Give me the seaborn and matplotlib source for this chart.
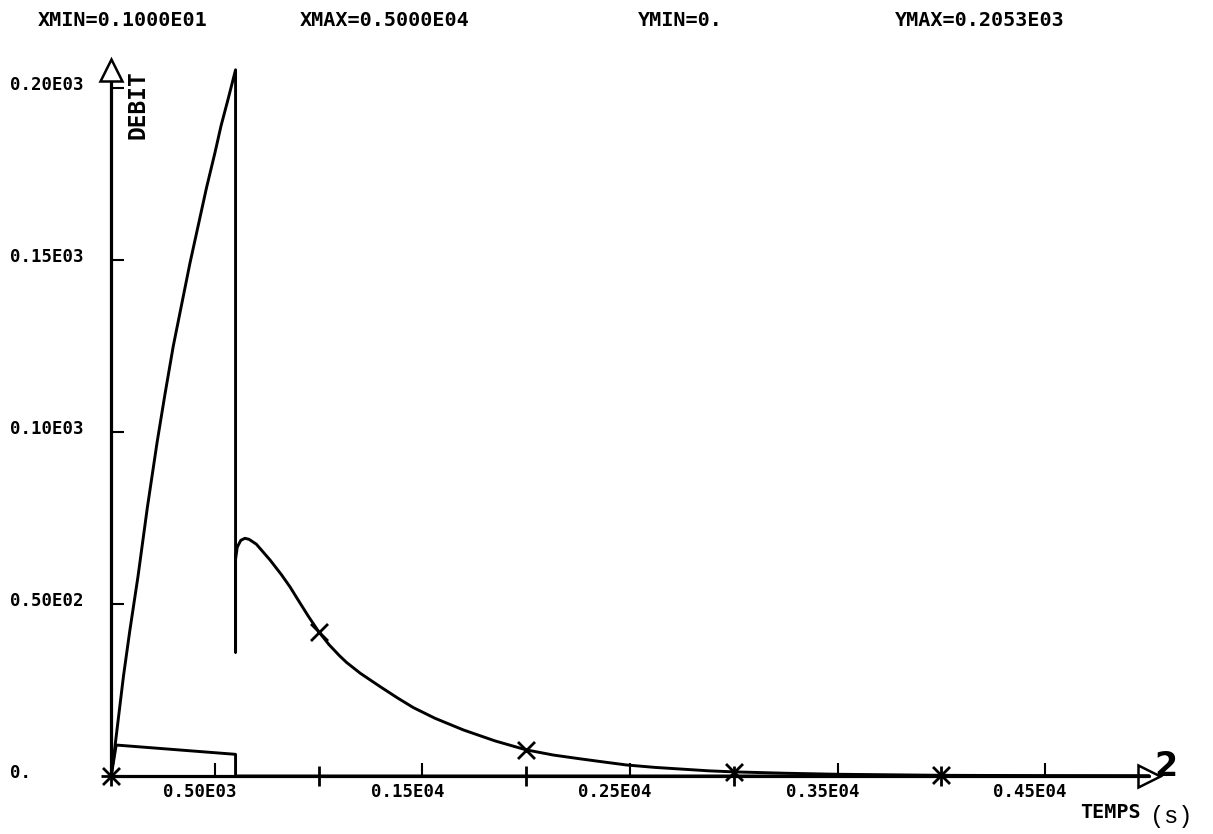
import matplotlib
matplotlib.use("Agg")
import matplotlib.pyplot as plt
import matplotlib.transforms as mtransforms
import numpy as np
import pandas as pd
import seaborn as sns

# ---------------- data ----------------
t_main = [1, 20, 40, 60, 90, 130, 175, 222, 260, 300, 340, 380, 420, 460, 500,
          530, 565, 600, 600, 600, 608, 625, 645, 665, 700, 766, 820, 862, 900,
          950, 1000, 1050, 1100, 1135, 1200, 1296, 1380, 1456, 1560, 1697, 1850,
          2000, 2130, 2259, 2370, 2484, 2620, 2750, 2880, 3000, 3250, 3500,
          3750, 4000, 4500, 5000]
q_main = [0, 9, 19, 29, 42, 58, 78, 97, 111, 125, 137, 149, 160, 171, 181,
          189, 197, 205.3, 36, 63, 66.5, 68.5, 69.1, 68.8, 67.4, 62.8, 58.6,
          55.0, 51.3, 46.5, 42.0, 38.2, 35.0, 33.0, 29.9, 26.0, 22.7, 19.9,
          16.8, 13.4, 10.2, 7.6, 6.1, 5.0, 4.1, 3.2, 2.5, 2.0, 1.5, 1.2, 0.8,
          0.5, 0.35, 0.2, 0.1, 0.05]

t_low = [1, 25, 600, 600, 1000, 2000, 3000, 4000, 5000]
q_low = [0, 9.0, 6.3, 0, 0, 0, 0, 0, 0]

marker_times = [1, 1000, 2000, 3000, 4000]

x_ticks = [500, 1500, 2500, 3500, 4500]
x_ticklabels = ["0.50E03", "0.15E04", "0.25E04", "0.35E04", "0.45E04"]
y_ticks = [0, 50, 100, 150, 200]
y_ticklabels = ["0.", "0.50E02", "0.10E03", "0.15E03", "0.20E03"]

header = ["XMIN=0.1000E01", "XMAX=0.5000E04", "YMIN=0.", "YMAX=0.2053E03"]
header_x = [38, 300, 638, 895]

XMIN, XMAX, YMIN, YMAX = 0, 5000, 0, 205.3

# ---------------- style ----------------
sns.set_theme(style="white")
plt.rcParams["font.family"] = ["DejaVu Sans Mono", "DejaVu Sans"]
plt.rcParams["font.weight"] = "bold"
plt.rcParams["text.color"] = "black"
plt.rcParams["xtick.color"] = "black"
plt.rcParams["ytick.color"] = "black"
plt.rcParams["xtick.labelcolor"] = "black"
plt.rcParams["ytick.labelcolor"] = "black"

W, H = 1213, 834
fig = plt.figure(figsize=(W / 100, H / 100), dpi=100)
fig.patch.set_facecolor("white")
ax = fig.add_axes([111 / W, 58 / H, 1038 / W, 706.2 / H])
ax.set_facecolor("white")

df_main = pd.DataFrame({"t": t_main, "q": q_main})
df_low = pd.DataFrame({"t": t_low, "q": q_low})

sns.lineplot(data=df_main, x="t", y="q", sort=False, estimator=None,
             color="black", lw=2.1, ax=ax, clip_on=False)
sns.lineplot(data=df_low, x="t", y="q", sort=False, estimator=None,
             color="black", lw=2.1, ax=ax, clip_on=False)

m_main = df_main[df_main["t"].isin(marker_times)].drop_duplicates("t")
m_low = df_low[df_low["t"].isin(marker_times)].drop_duplicates("t")
sns.scatterplot(data=m_main, x="t", y="q", marker="x", s=150, color="black",
                linewidth=2.0, ax=ax, clip_on=False, zorder=5)
sns.scatterplot(data=m_low, x="t", y="q", marker="+", s=200, color="black",
                linewidth=2.0, ax=ax, clip_on=False, zorder=5)

ax.set_xlim(XMIN, XMAX)
ax.set_ylim(YMIN, YMAX)
for s in ax.spines.values():
    s.set_visible(False)

# axis lines with arrow heads
ax.plot([XMIN, XMAX], [0, 0], color="black", lw=2.3, clip_on=False, zorder=3)
ax.plot([0, 0], [0, YMAX], color="black", lw=2.3, clip_on=False, zorder=3)
ax.plot([0], [YMAX], marker="^", markersize=16, markerfacecolor="white",
        markeredgecolor="black", markeredgewidth=1.8, clip_on=False, zorder=6)
ax.plot([XMAX], [0], marker=">", markersize=16, markerfacecolor="none",
        markeredgecolor="black", markeredgewidth=1.8, clip_on=False, zorder=6)

# ticks
ax.set_xticks(x_ticks)
ax.set_xticklabels(x_ticklabels)
ax.set_yticks(y_ticks)
ax.set_yticklabels(y_ticklabels)
ax.tick_params(axis="x", direction="in", length=9.4, width=1.5, color="black",
               pad=5, labelsize=12.5, bottom=True, labelcolor="black")
ax.tick_params(axis="y", direction="in", length=9.4, width=1.5, color="black",
               pad=72.7, labelsize=12.5, left=True, labelcolor="black")
xoff = mtransforms.ScaledTranslation(-15 / 100, 0, fig.dpi_scale_trans)
for lab in ax.get_xticklabels():
    lab.set_transform(lab.get_transform() + xoff)
    lab.set_fontweight("bold")
yoff = mtransforms.ScaledTranslation(0, 5 / 100, fig.dpi_scale_trans)
for lab in ax.get_yticklabels():
    lab.set_transform(lab.get_transform() + yoff)
    lab.set_horizontalalignment("left")
    lab.set_fontweight("bold")
ax.yaxis.get_major_ticks()[0].tick1line.set_visible(False)
ax.set_xlabel("")
ax.set_ylabel("")


def px(x, y):
    return x / W, 1 - y / H


for txt, x0 in zip(header, header_x):
    fig.text(*px(x0, 21), txt, ha="left", va="center", fontsize=14.5,
             fontweight="bold", family="DejaVu Sans Mono", color="black")

fig.text(*px(138, 105), "DEBIT", rotation=90, ha="center", va="center",
         fontsize=16.5, fontweight="bold", family="DejaVu Sans Mono",
         color="black")
fig.text(*px(1080, 813), "TEMPS", ha="left", va="center", fontsize=14.5,
         fontweight="bold", family="DejaVu Sans Mono", color="black")
fig.text(*px(1150, 817), "(s)", ha="left", va="center", fontsize=17,
         fontweight="normal", family="Liberation Mono", color="black")
fig.text(*px(1166, 766), "2", ha="center", va="center", fontsize=24,
         fontweight="bold", family="DejaVu Sans", color="black")

fig.savefig("out.png", dpi=100, facecolor="white")
